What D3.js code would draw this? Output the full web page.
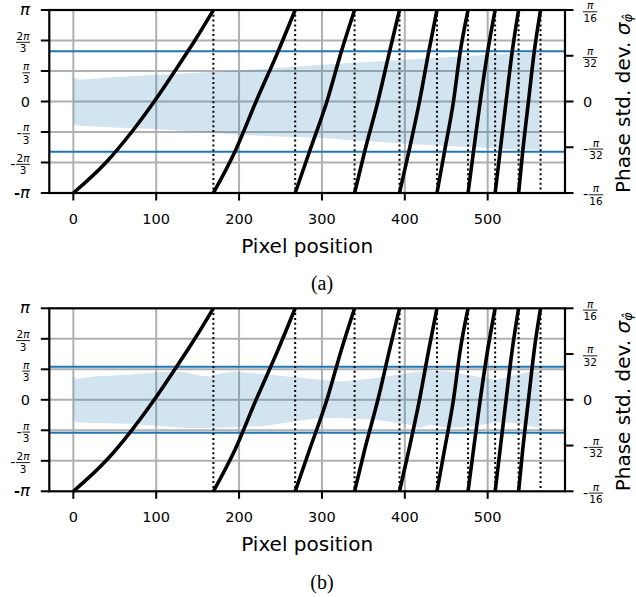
<!DOCTYPE html>
<html><head><meta charset="utf-8">
<script src="https://cdn.jsdelivr.net/npm/d3@7"></script>
<style>body{margin:0;background:#fff}svg{display:block}</style>
</head><body>
<script>
const PI = Math.PI;

// ---------- data ----------
const xTicks = [0, 100, 200, 300, 400, 500];
const phaseTicks = [-PI, -2 * PI / 3, -PI / 3, 0, PI / 3, 2 * PI / 3, PI];
const phaseTickLabels = ["-π", "-2π/3", "-π/3", "0", "π/3", "2π/3", "π"];
const sigmaTicks = [-PI / 16, -PI / 32, 0, PI / 32, PI / 16];
const sigmaTickLabels = ["-π/16", "-π/32", "0", "π/32", "π/16"];

// wrap positions (dotted lines), in pixel units
const wrapX = [169, 267.7, 339.4, 393.6, 438.8, 476.3, 509, 537.3, 563.8];

// first fringe: phase levels and x positions
const seg1Phase = [-PI, -2 * PI / 3, -PI / 3, 0, PI / 3, 2 * PI / 3, PI];
const seg1X = [0, 39.4, 70.4, 97.6, 122.5, 146.6, 169];
// following fringes: phase levels and x positions
const segPhase = [-PI, -1.733, 0, 1.713, PI];
const segX = [
  [169, 194.8, 220.5, 247, 267.7],
  [267.7, 284.8, 306, 323.4, 339.4],
  [339.4, 351.4, 367.5, 381.6, 393.6],
  [393.6, 404.8, 417.7, 428.9, 438.8],
  [438.8, 447.8, 458.7, 466.9, 476.3],
  [476.3, 482.8, 491, 500, 509],
  [509, 514.9, 522.2, 529.6, 537.3],
  [537.3, 542.2, 549.2, 556.2, 563.8]
];

// (a) phase std. dev. band
const bandAX = [0, 3, 8, 50, 100, 150, 200, 250, 300, 350, 400, 450, 500, 540, 562.5];
const bandAUpper = [0.0524, 0.0483, 0.0466, 0.0526, 0.0573, 0.0618, 0.0665, 0.0725, 0.0788, 0.0841, 0.0895, 0.0948, 0.1002, 0.1036, 0.1051];
const bandALower = [-0.0479, -0.0504, -0.0521, -0.0558, -0.0592, -0.0654, -0.0715, -0.0751, -0.0785, -0.0848, -0.0908, -0.0955, -0.1000, -0.1026, -0.1036];
// (b) phase std. dev. band
const bandBUpperX = [0, 4, 24, 64, 100, 117, 137, 153, 165, 177, 193, 225, 265, 297, 325, 365, 398, 426, 454, 486, 510, 526, 546, 562.5];
const bandBUpper = [0.0487, 0.0444, 0.0500, 0.0536, 0.0586, 0.0607, 0.0586, 0.0515, 0.0500, 0.0558, 0.0607, 0.0558, 0.0487, 0.0429, 0.0393, 0.0466, 0.0558, 0.0629, 0.0607, 0.0500, 0.0429, 0.0500, 0.0586, 0.0607];
const bandBLowerX = [0, 4, 64, 100, 137, 165, 201, 233, 265, 297, 325, 365, 406, 418, 430, 454, 486, 510, 534, 550, 562.5];
const bandBLower = [-0.0444, -0.0487, -0.0515, -0.0558, -0.0607, -0.0607, -0.0586, -0.0558, -0.0466, -0.0393, -0.0393, -0.0429, -0.0536, -0.0607, -0.0536, -0.0607, -0.0558, -0.0487, -0.0500, -0.0558, -0.0607];

// threshold lines (std. dev. axis)
const thresholdA = 0.108;
const thresholdB = 0.0708;

const captions = ["(a)", "(b)"];

// ---------- drawing ----------
const W = 636, H = 597;
const svg = d3.select("body").append("svg").attr("width", W).attr("height", H);
const FONT = "DejaVu Sans, sans-serif";

const panels = [
  { top: 10, bottom: 193, upX: bandAX, up: bandAUpper, loX: bandAX, lo: bandALower, thr: thresholdA, cap: captions[0] },
  { top: 308.3, bottom: 491.3, upX: bandBUpperX, up: bandBUpper, loX: bandBLowerX, lo: bandBLower, thr: thresholdB, cap: captions[1] }
];

const x = d3.scaleLinear().domain([-29, 593.3]).range([49.3, 565]);

function measure(str, size, style) {
  const t = svg.append("text").attr("font-family", FONT).attr("font-size", size)
    .attr("font-style", style || "normal").text(str);
  const w = t.node().getComputedTextLength();
  t.remove();
  return w;
}

function drawLabel(g, str, px, py, align) {
  // align: 'end' => right edge at px ; 'start' => left edge at px
  let sign = "";
  let s = str;
  if (s.startsWith("-")) { sign = "-"; s = s.slice(1); }
  if (s.includes("/")) {
    const [num, den] = s.split("/");
    const barY = py + 1.8;
    const fs = 10.5;
    const wn = num.split("").reduce((a, ch) => a + measure(ch, fs, ch === "π" ? "italic" : "normal"), 0);
    const wd = measure(den, fs);
    const w = Math.max(wn, wd) + 1;
    const minusW = sign ? 5.8 : 0;
    const cx = align === "end" ? px - w / 2 : px + minusW + w / 2;
    if (sign) {
      g.append("text").attr("font-family", FONT).attr("font-size", 14.5)
        .attr("x", cx - w / 2 - 5.8).attr("y", barY + 4.6).text("-");
    }
    const tn = g.append("text").attr("font-family", FONT).attr("font-size", fs)
      .attr("x", cx - wn / 2).attr("y", barY - 2.5);
    for (const ch of num) {
      tn.append("tspan").text(ch).attr("font-style", ch === "π" ? "italic" : "normal");
    }
    g.append("text").attr("font-family", FONT).attr("font-size", fs)
      .attr("x", cx - wd / 2).attr("y", barY + 9.9).text(den);
    g.append("line").attr("x1", cx - w / 2).attr("x2", cx + w / 2).attr("y1", barY).attr("y2", barY)
      .attr("stroke", "#000").attr("stroke-width", 0.9);
  } else {
    const t = g.append("text").attr("font-family", FONT).attr("x", px).attr("y", py + 5)
      .attr("text-anchor", align);
    if (sign) t.append("tspan").attr("font-size", 14.5).attr("font-weight", "bold").text("-");
    if (s === "π") t.append("tspan").attr("font-size", 16.5).attr("font-style", "italic").text("π");
    else t.append("tspan").attr("font-size", 14.5).text(s);
  }
}

panels.forEach((p, i) => {
  const g = svg.append("g");
  const yP = d3.scaleLinear().domain([-PI, PI]).range([p.bottom, p.top]);
  const yS = d3.scaleLinear().domain([-PI / 16, PI / 16]).range([p.bottom, p.top]);
  const L = x.range()[0], R = x.range()[1];

  // grid
  g.append("g").selectAll("line").data(xTicks).join("line")
    .attr("x1", d => x(d)).attr("x2", d => x(d)).attr("y1", p.top).attr("y2", p.bottom)
    .attr("stroke", "#b0b0b0").attr("stroke-width", 2);
  g.append("g").selectAll("line").data(phaseTicks.slice(1, -1)).join("line")
    .attr("x1", L).attr("x2", R).attr("y1", d => yP(d)).attr("y2", d => yP(d))
    .attr("stroke", "#b0b0b0").attr("stroke-width", 2);

  // band
  const pts = p.upX.map((d, k) => [x(d), yS(p.up[k])])
    .concat(p.loX.map((d, k) => [x(d), yS(p.lo[k])]).reverse());
  g.append("path").attr("d", d3.line()(pts) + "Z")
    .attr("fill", "#1f77b4").attr("fill-opacity", 0.2).attr("stroke", "none");

  // threshold lines
  g.append("g").selectAll("line").data([p.thr, -p.thr]).join("line")
    .attr("x1", L).attr("x2", R).attr("y1", d => yS(d)).attr("y2", d => yS(d))
    .attr("stroke", "#1f77b4").attr("stroke-width", 2);

  // dotted wrap lines
  g.append("g").selectAll("line").data(wrapX).join("line")
    .attr("x1", d => x(d)).attr("x2", d => x(d)).attr("y1", p.top).attr("y2", p.bottom)
    .attr("stroke", "#000").attr("stroke-width", 2).attr("stroke-dasharray", "2,2.8");

  // phase curves
  const line = d3.line().x(d => x(d[0])).y(d => yP(d[1])).curve(d3.curveMonotoneX);
  const segs = [seg1X.map((d, k) => [d, seg1Phase[k]])]
    .concat(segX.map(arr => arr.map((d, k) => [d, segPhase[k]])));
  g.append("g").selectAll("path").data(segs).join("path")
    .attr("d", line).attr("fill", "none").attr("stroke", "#000").attr("stroke-width", 3.6);

  // frame
  g.append("rect").attr("x", L).attr("y", p.top).attr("width", R - L).attr("height", p.bottom - p.top)
    .attr("fill", "none").attr("stroke", "#000").attr("stroke-width", 2.2);

  // bottom ticks + labels
  const bt = g.append("g");
  xTicks.forEach(t => {
    bt.append("line").attr("x1", x(t)).attr("x2", x(t)).attr("y1", p.bottom).attr("y2", p.bottom + 7.5)
      .attr("stroke", "#000").attr("stroke-width", 2);
    bt.append("text").attr("x", x(t)).attr("y", p.bottom + 30.5).attr("text-anchor", "middle")
      .attr("font-family", FONT).attr("font-size", 14.5).text(t);
  });
  // left ticks + labels
  phaseTicks.forEach((t, k) => {
    g.append("line").attr("x1", L - 8.5).attr("x2", L).attr("y1", yP(t)).attr("y2", yP(t))
      .attr("stroke", "#000").attr("stroke-width", 2);
    drawLabel(g, phaseTickLabels[k], 30, yP(t), "end");
  });
  // right ticks + labels
  sigmaTicks.forEach((t, k) => {
    g.append("line").attr("x1", R).attr("x2", R + 8.5).attr("y1", yS(t)).attr("y2", yS(t))
      .attr("stroke", "#000").attr("stroke-width", 2);
    drawLabel(g, sigmaTickLabels[k], 583, yS(t), "start");
  });

  // x label
  g.append("text").attr("x", (L + R) / 2).attr("y", p.bottom + 59.5).attr("text-anchor", "middle")
    .attr("font-family", FONT).attr("font-size", 20).text("Pixel position");

  // right axis title
  const cy = (p.top + p.bottom) / 2 + 2;
  const tt = g.append("text").attr("transform", `translate(629.5,${cy}) rotate(-90)`)
    .attr("text-anchor", "middle").attr("font-family", FONT).attr("font-size", 20);
  tt.append("tspan").text("Phase std. dev. ");
  tt.append("tspan").attr("font-style", "italic").text("σ");
  tt.append("tspan").attr("font-style", "italic").attr("font-size", 13).attr("dy", 2.5).text("φ\u0302");

  // caption
  g.append("text").attr("x", 322).attr("y", p.bottom + 97.3).attr("text-anchor", "middle")
    .attr("font-family", "Liberation Serif, Times New Roman, serif").attr("font-size", 20).text(p.cap);
});
</script>
</body></html>
